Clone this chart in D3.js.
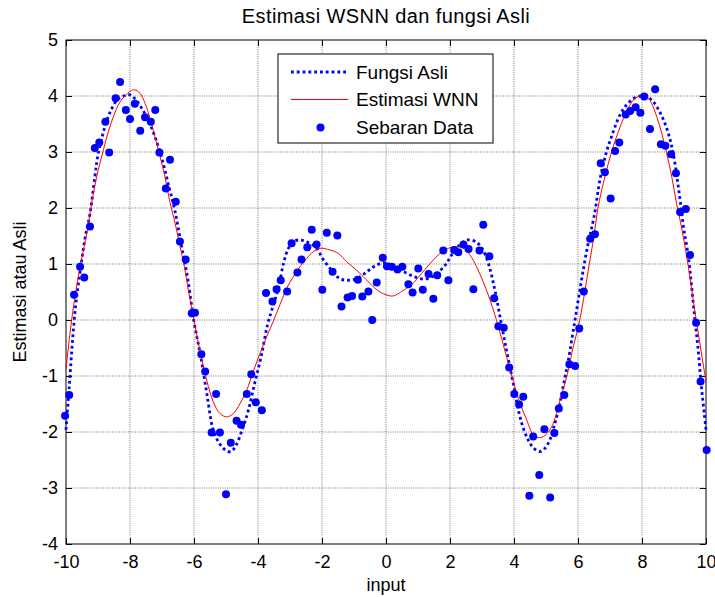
<!DOCTYPE html>
<html>
<head>
<meta charset="utf-8">
<title>Estimasi WSNN dan fungsi Asli</title>
<style>
body {
  margin: 0;
  background: #fff;
}
svg {
  display: block;
  font-family: "Liberation Sans", Arial, sans-serif;
}
.grid line {
  stroke: #777;
  stroke-width: 1;
  stroke-dasharray: 1,1.3;
}
.tick-lbl {
  font-size: 18px;
  fill: #000;
}
</style>
<script src="https://d3js.org/d3.v7.min.js"></script>
</head>
<body>
<div id="chart"></div>
<script>
// Fungsi Asli (dotted curve)
var asliX = [-10,-9.9,-9.8,-9.7,-9.6,-9.5,-9.4,-9.25,-9.1,-9,-8.8,-8.6,-8.4,-8.2,-8,-7.8,-7.6,-7.4,-7.2,-7,-6.8,-6.6,-6.4,-6.2,-6,-5.8,-5.6,-5.4,-5.2,-5,-4.85,-4.7,-4.5,-4.3,-4.1,-3.9,-3.7,-3.5,-3.35,-3.2,-3.05,-2.9,-2.7,-2.5,-2.2,-1.95,-1.7,-1.45,-1.2,-0.9,-0.6,-0.3,0,0.3,0.6,0.9,1.2,1.5,1.85,2.05,2.3,2.55,2.8,3,3.2,3.4,3.55,3.7,3.85,4,4.15,4.3,4.45,4.6,4.8,4.97,5.12,5.25,5.4,5.55,5.7,5.9,6.1,6.3,6.5,6.7,6.9,7.1,7.3,7.5,7.75,7.95,8.15,8.35,8.55,8.75,8.9,9,9.1,9.2,9.3,9.45,9.55,9.65,9.75,9.85,9.95,10];
var asliY = [-1.96,-1.2,-0.4,0.25,0.7,1.1,1.48,1.9,2.55,2.95,3.42,3.74,3.93,4,4.02,3.92,3.75,3.53,3.24,2.88,2.42,1.96,1.35,0.75,-0.03,-0.62,-1.31,-1.96,-2.21,-2.33,-2.35,-2.25,-1.97,-1.61,-1.12,-0.65,-0.08,0.3,0.6,1.02,1.28,1.4,1.43,1.4,1.3,1.07,0.89,0.74,0.71,0.74,0.86,0.98,1.02,0.93,0.85,0.77,0.73,0.79,0.98,1.16,1.34,1.43,1.4,1.28,1.01,0.54,0.1,-0.35,-0.78,-1.2,-1.64,-1.95,-2.15,-2.28,-2.35,-2.29,-2.14,-1.9,-1.58,-1.15,-0.71,-0.02,0.68,1.32,1.84,2.55,3.02,3.36,3.65,3.83,3.96,4,3.99,3.9,3.72,3.46,3.17,2.9,2.52,2.1,1.65,1.13,0.6,0.02,-0.5,-1.15,-1.7,-1.96];

// Estimasi WNN (red line)
var wnnX = [-10,-9.875,-9.72,-9.56,-9.35,-9.2,-9.04,-8.83,-8.68,-8.52,-8.33,-8.16,-7.98,-7.85,-7.69,-7.53,-7.375,-7.22,-7.06,-6.91,-6.75,-6.59,-6.45,-6.3,-6.15,-6,-5.86,-5.71,-5.55,-5.4,-5.19,-4.98,-4.77,-4.56,-4.35,-4.15,-3.94,-3.73,-3.52,-3.31,-3.1,-2.9,-2.69,-2.48,-2.27,-2.06,-1.75,-1.49,-1.23,-0.92,-0.6,-0.29,0,0.23,0.49,0.8,1.11,1.43,1.69,1.95,2.21,2.42,2.625,2.83,3.04,3.25,3.41,3.56,3.77,3.98,4.19,4.4,4.6,4.76,4.92,5.125,5.28,5.44,5.59,5.7,5.85,6.01,6.17,6.32,6.48,6.63,6.79,6.95,7.1,7.26,7.42,7.57,7.73,7.88,8.04,8.2,8.3,8.46,8.62,8.77,8.93,9.08,9.24,9.45,9.6,9.76,9.94,10];
var wnnY = [-0.88,-0.24,0.42,0.95,1.55,2.08,2.56,3.04,3.36,3.63,3.88,4,4.09,4.11,4.05,3.87,3.6,3.27,2.92,2.56,2.1,1.73,1.35,0.95,0.45,0,-0.42,-0.83,-1.19,-1.46,-1.67,-1.73,-1.67,-1.49,-1.25,-0.92,-0.6,-0.3,-0.02,0.28,0.57,0.77,0.95,1.1,1.22,1.28,1.25,1.19,1.04,0.89,0.71,0.54,0.45,0.43,0.51,0.63,0.83,1.04,1.19,1.28,1.31,1.28,1.16,0.95,0.68,0.36,0.08,-0.22,-0.66,-1.1,-1.49,-1.79,-2.05,-2.1,-2.08,-1.96,-1.76,-1.43,-1.13,-0.89,-0.48,-0.12,0.36,0.89,1.43,2.02,2.44,2.8,3.1,3.36,3.6,3.78,3.93,3.99,4.02,3.96,3.87,3.63,3.33,2.98,2.56,2.08,1.64,0.95,0.36,-0.24,-0.89,-1.1];

// Sebaran Data (scatter)
var dataX = [-10.03,-9.9,-9.75,-9.56,-9.43,-9.25,-9.1,-8.96,-8.77,-8.65,-8.45,-8.31,-8.13,-8,-7.85,-7.68,-7.53,-7.35,-7.21,-7.08,-6.88,-6.75,-6.57,-6.44,-6.26,-6.07,-5.97,-5.77,-5.65,-5.45,-5.31,-5.19,-5,-4.85,-4.67,-4.53,-4.35,-4.21,-4.07,-3.88,-3.75,-3.55,-3.42,-3.29,-3.09,-2.95,-2.77,-2.64,-2.46,-2.32,-2.17,-1.99,-1.85,-1.67,-1.52,-1.39,-1.2,-1.06,-0.88,-0.74,-0.55,-0.43,-0.29,-0.1,0.03,0.18,0.36,0.51,0.7,0.83,1.01,1.15,1.33,1.48,1.6,1.79,1.95,2.13,2.26,2.42,2.58,2.73,2.92,3.04,3.23,3.38,3.51,3.68,3.85,4.01,4.16,4.29,4.48,4.6,4.79,4.95,5.13,5.26,5.4,5.57,5.73,5.91,6.04,6.18,6.38,6.53,6.71,6.84,7.02,7.16,7.29,7.49,7.63,7.8,7.95,8.07,8.25,8.41,8.59,8.73,8.91,9.06,9.19,9.37,9.5,9.69,9.83,10.02];
var dataY = [-1.71,-1.34,0.45,0.95,0.76,1.67,3.07,3.17,3.54,2.99,3.96,4.25,3.75,3.59,3.86,3.38,3.62,3.54,3.75,2.99,2.35,2.86,2.11,1.4,1.08,0.12,0.13,-0.61,-0.92,-2.01,-1.32,-2.01,-3.11,-2.19,-1.8,-1.87,-1.32,-0.97,-1.47,-1.61,0.48,0.33,0.55,0.71,0.51,1.37,0.85,1.08,1.3,1.61,1.35,0.54,1.56,0.86,1.51,0.24,0.4,0.43,0.72,0.42,0.51,0,0.67,1.11,0.96,0.95,0.9,0.95,0.64,0.49,0.92,0.54,0.82,0.38,0.8,1.24,0.71,1.25,1.21,1.35,1.27,0.55,1.24,1.7,1.14,0.39,-0.11,-0.14,-0.85,-1.32,-1.51,-1.37,-3.14,-2.08,-2.77,-1.95,-3.17,-2.02,-1.58,-1.34,-0.79,-0.82,-0.15,0.51,1.45,1.53,2.8,2.64,2.17,3.02,3.17,3.67,3.73,3.8,3.7,3.99,3.41,4.12,3.14,3.11,2.96,2.62,1.93,1.98,1.16,-0.05,-1.1,-2.32];

var xTicks = [-10,-8,-6,-4,-2,0,2,4,6,8,10];
var yTicks = [-4,-3,-2,-1,0,1,2,3,4,5];
var legendNames = ['Fungsi Asli', 'Estimasi WNN', 'Sebaran Data'];

var W = 715, H = 597;
var padL = 66, padR = 706, padT = 40, padB = 544;

var svg = d3.select('#chart').append('svg').attr('width', W).attr('height', H);

var x = d3.scaleLinear().domain([-10, 10]).range([padL, padR]);
var y = d3.scaleLinear().domain([-4, 5]).range([padB, padT]);

svg.append('rect').attr('width', W).attr('height', H).attr('fill', '#fff');

// grid
var grid = svg.append('g').attr('class', 'grid');
grid.selectAll('.gx').data(xTicks.slice(1, -1)).enter().append('line')
  .attr('x1', d => x(d)).attr('x2', d => x(d)).attr('y1', padT).attr('y2', padB);
grid.selectAll('.gy').data(yTicks.slice(1, -1)).enter().append('line')
  .attr('y1', d => y(d)).attr('y2', d => y(d)).attr('x1', padL).attr('x2', padR);

// axes, ticks pointing inward like matlab
var tk = 6;
var fmt = d => String(d);
svg.append('g').attr('transform', `translate(0,${padB})`)
  .call(d3.axisBottom(x).tickValues(xTicks).tickSizeInner(-tk).tickSizeOuter(0).tickPadding(11).tickFormat(fmt));
svg.append('g').attr('transform', `translate(0,${padT})`)
  .call(d3.axisTop(x).tickValues(xTicks).tickSizeInner(-tk).tickSizeOuter(0).tickFormat(''));
svg.append('g').attr('transform', `translate(${padL},0)`)
  .call(d3.axisLeft(y).tickValues(yTicks).tickSizeInner(-tk).tickSizeOuter(0).tickPadding(8).tickFormat(fmt));
svg.append('g').attr('transform', `translate(${padR},0)`)
  .call(d3.axisRight(y).tickValues(yTicks).tickSizeInner(-tk).tickSizeOuter(0).tickFormat(''));

svg.selectAll('.domain').remove();
svg.selectAll('.tick line').attr('stroke', '#000');
svg.selectAll('.tick text').attr('class', 'tick-lbl').attr('font-family', null).attr('font-size', null);

svg.append('rect').attr('x', padL).attr('y', padT).attr('width', padR - padL).attr('height', padB - padT)
  .attr('fill', 'none').attr('stroke', '#000').attr('stroke-width', 1);

// series
var asli = asliX.map((v, i) => [v, asliY[i]]);
var wnn = wnnX.map((v, i) => [v, wnnY[i]]);
var pts = dataX.map((v, i) => [v, dataY[i]]);

var line = d3.line().x(d => x(d[0])).y(d => y(d[1])).curve(d3.curveCatmullRom);

svg.append('path').datum(asli).attr('d', line)
  .attr('fill', 'none').attr('stroke', '#0000ff').attr('stroke-width', 2.8).attr('stroke-dasharray', '2.8,3');
svg.append('path').datum(wnn).attr('d', line)
  .attr('fill', 'none').attr('stroke', '#ff0000').attr('stroke-width', 1);
svg.append('g').selectAll('circle').data(pts).enter().append('circle')
  .attr('cx', d => x(d[0])).attr('cy', d => y(d[1])).attr('r', 4).attr('fill', '#0000ff');

// legend
var lg = svg.append('g').attr('transform', 'translate(278,54)');
lg.append('rect').attr('width', 215).attr('height', 89).attr('fill', '#fff').attr('stroke', '#000');
var rowY = [18, 45.5, 73.5];
lg.append('line').attr('x1', 13).attr('x2', 70).attr('y1', rowY[0]).attr('y2', rowY[0])
  .attr('stroke', '#0000ff').attr('stroke-width', 2.8).attr('stroke-dasharray', '2.8,3');
lg.append('line').attr('x1', 13).attr('x2', 70).attr('y1', rowY[1]).attr('y2', rowY[1])
  .attr('stroke', '#ff0000').attr('stroke-width', 1);
lg.append('circle').attr('cx', 42.5).attr('cy', rowY[2]).attr('r', 4).attr('fill', '#0000ff');
lg.selectAll('text').data(legendNames).enter().append('text')
  .attr('x', 78).attr('y', (d, i) => rowY[i]).attr('dy', '0.35em')
  .attr('font-size', 19).text(d => d);

// titles
svg.append('text').attr('x', (padL + padR) / 2).attr('y', 23).attr('text-anchor', 'middle')
  .attr('font-size', 20).attr('letter-spacing', 0.4).text('Estimasi WSNN dan fungsi Asli');
svg.append('text').attr('x', (padL + padR) / 2).attr('y', 591).attr('text-anchor', 'middle')
  .attr('font-size', 18).text('input');
svg.append('text').attr('transform', `translate(26,${(padT + padB) / 2}) rotate(-90)`).attr('text-anchor', 'middle')
  .attr('font-size', 18).text('Estimasi atau Asli');
</script>
</body>
</html>
